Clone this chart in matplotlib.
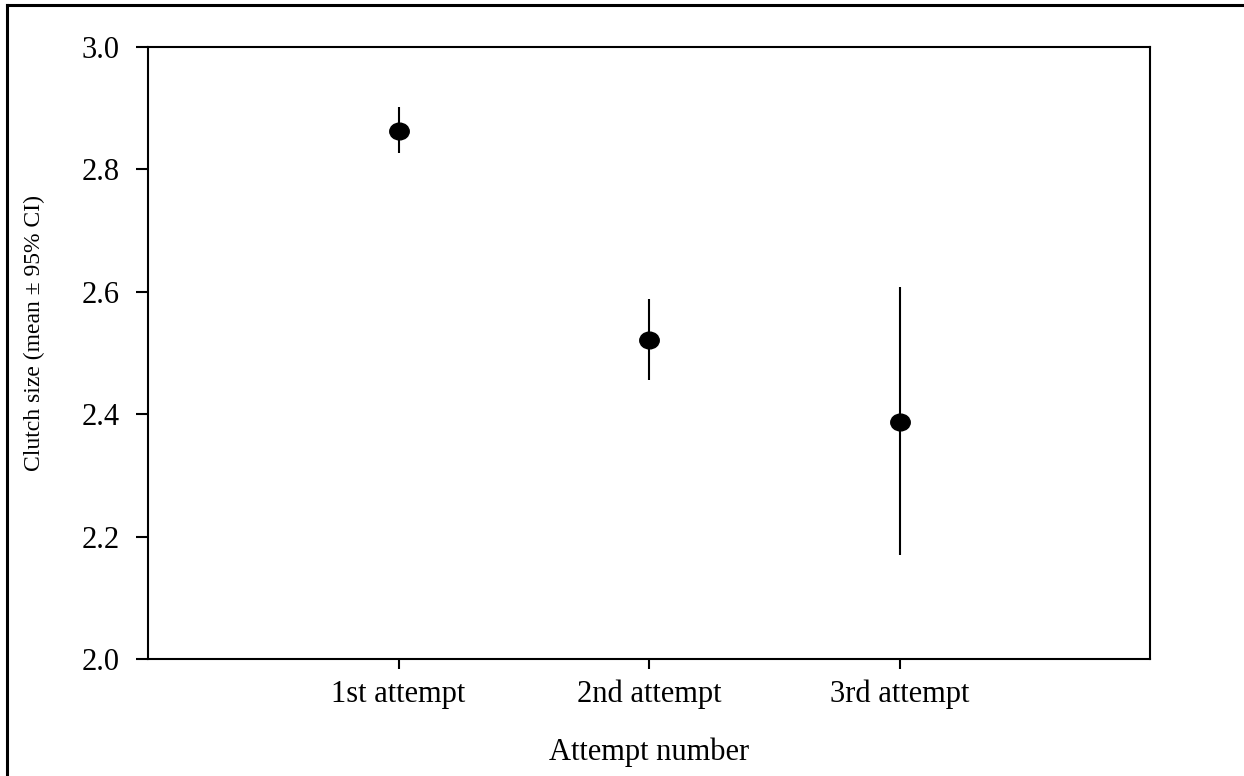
import matplotlib
matplotlib.use("Agg")
import matplotlib.pyplot as plt
from matplotlib.lines import Line2D
from matplotlib.path import Path
from matplotlib.transforms import Affine2D

# data
attempts = ["1st attempt", "2nd attempt", "3rd attempt"]
mean_size = [2.863, 2.522, 2.387]
ci_low = [2.827, 2.456, 2.170]
ci_high = [2.902, 2.588, 2.608]
y_ticks = [2.0, 2.2, 2.4, 2.6, 2.8, 3.0]

plt.rcParams['font.family'] = ['Liberation Serif', 'DejaVu Serif']

fig = plt.figure(figsize=(12.44, 7.76), dpi=100)
ax = fig.add_axes([0.119, 0.1508, 0.8055, 0.7886])

# slightly flattened dot, like the original
dot = Path.unit_circle().transformed(Affine2D().scale(1.0, 0.86))

xpos = list(range(1, len(attempts) + 1))
err = [[m - lo for m, lo in zip(mean_size, ci_low)],
       [hi - m for m, hi in zip(mean_size, ci_high)]]
ax.errorbar(xpos, mean_size, yerr=err, fmt='none', ecolor='black',
            elinewidth=1.5, capsize=0)
ax.plot(xpos, mean_size, ls='none', marker=dot, color='black', ms=14)

ax.set_xlim(0, 4)
ax.set_ylim(2.0, 3.0)
ax.set_yticks(y_ticks)
ax.set_yticklabels([f"{v:.1f}" for v in y_ticks])
ax.set_xticks(xpos)
ax.set_xticklabels(attempts)
for s in ax.spines.values():
    s.set_linewidth(1.5)
ax.tick_params(axis='y', direction='out', length=8.5, width=1.5,
               labelsize=22, pad=12)
ax.tick_params(axis='x', direction='out', length=7, width=1.5,
               labelsize=22, pad=8)
ax.set_ylabel("Clutch size (mean ± 95% CI)", fontsize=17, va='center')
ax.yaxis.set_label_coords(-0.113, 0.533)
ax.set_xlabel("Attempt number", fontsize=22, va='center')
ax.xaxis.set_label_coords(0.5, -0.152)

# outer frame (only left and top edges show in the reference)
fig.add_artist(Line2D([0.0056, 0.0056], [0, 0.994], color='black', lw=2.2,
                      transform=fig.transFigure))
fig.add_artist(Line2D([0.0056, 1.0], [0.994, 0.994], color='black', lw=2.2,
                      transform=fig.transFigure))

fig.savefig("out.png", dpi=100)
